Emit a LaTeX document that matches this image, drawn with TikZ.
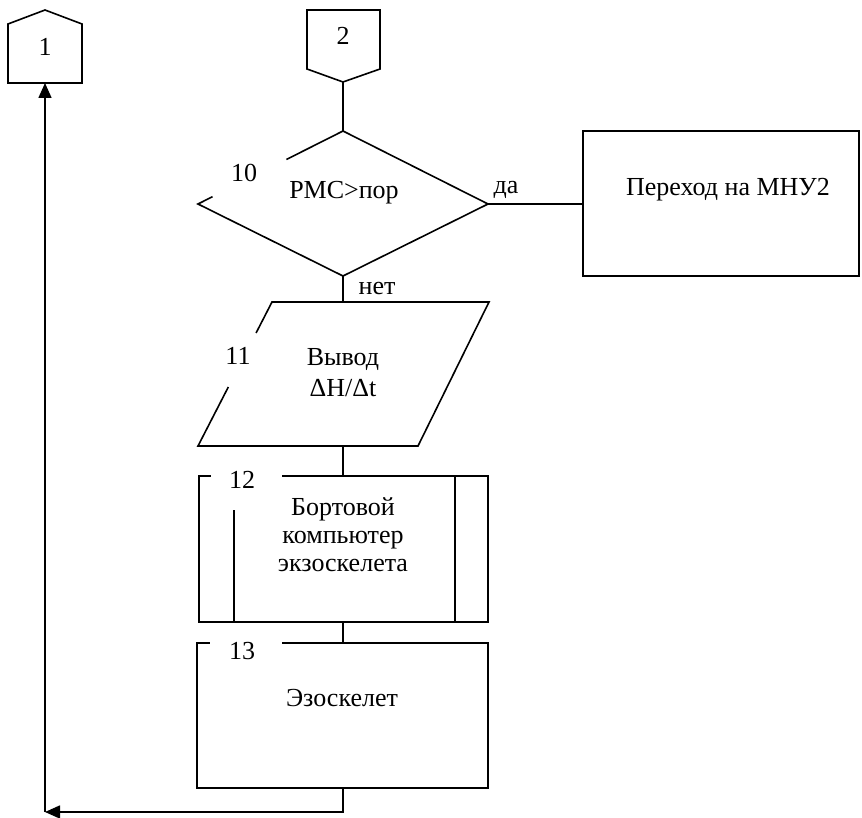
\documentclass[tikz,border=0pt]{standalone}
\usepackage{fontspec}
\setmainfont{Liberation Serif}
\usetikzlibrary{arrows.meta,calc}
\begin{document}
\begin{tikzpicture}[x=1pt,y=-1pt,line width=1.6pt,line join=miter,
  font=\fontsize{26}{31}\selectfont,
  lbl/.style={inner sep=0pt,anchor=center,text height=0.7em,text depth=0.2em,yshift=-4pt},
  lines/.style={inner sep=0pt,anchor=center,align=center},
  arr/.style={-{Triangle[length=15pt,width=13pt]}}]
\useasboundingbox (0,0) rectangle (862,818);

% off-page connector 1 (entry point, house shape)
\coordinate (c1base) at (45,83);
\draw (8,83) -- (8,24) -- (45,10) -- (82,24) -- (82,83) -- cycle;
\node[lbl] (c1) at (45,49) {1};

% off-page connector 2 (pointing down)
\coordinate (c2tip) at (343,82);
\draw (307,10) -- (380,10) -- (380,69) -- (c2tip) -- (307,69) -- cycle;
\node[lbl] (c2) at (343,38) {2};

% decision 10, left upper edge broken around the number
\coordinate (dT) at (343,131);
\coordinate (dB) at (343,276);
\coordinate (dL) at (198,204);
\coordinate (dR) at (488,204);
\draw ($(dL)!0.61!(dT)$) -- (dT) -- (dR) -- (dB) -- (dL) -- ($(dL)!0.1!(dT)$);
\node[lbl] (n10) at (244,175) {10};
\node[lbl] (t10) at (344,192) {РМС>пор};
\node[lbl] (yes) at (506,187) {да};
\node[lbl] (no) at (377,288) {нет};

% process: switch to MNU2
\node[draw,minimum width=276pt,minimum height=145pt,inner sep=0pt] (mnu) at (721,203.5) {};
\node[lbl] (tmnu) at (728,189) {Переход на МНУ2};

% output 11 (parallelogram), left edge broken around the number
\coordinate (pTL) at (272,302);
\coordinate (pTR) at (489,302);
\coordinate (pBR) at (418,446);
\coordinate (pBL) at (198,446);
\coordinate (pTop) at (343,302);
\coordinate (pBot) at (343,446);
\draw ($(pTL)!0.59!(pBL)$) -- (pBL) -- (pBR) -- (pTR) -- (pTL) -- ($(pTL)!0.215!(pBL)$);
\node[lbl] (n11) at (238,358) {11};
\node[lines] (t11) at (343,373) {Вывод\\ΔH/Δt};

% predefined process 12
\coordinate (bTop) at (343,476);
\coordinate (bBot) at (343,622);
\draw (282,476) -- (488,476) -- (488,622) -- (199,622) -- (199,476) -- (211,476);
\draw (234,510) -- (234,622);
\draw (455,476) -- (455,622);
\node[lbl] (n12) at (242,482) {12};
\node[lines,font=\fontsize{26}{28}\selectfont] (t12) at (343,535) {Бортовой\\компьютер\\экзоскелета};

% process 13
\coordinate (eTop) at (343,643);
\coordinate (eBot) at (343,788);
\draw (282,643) -- (488,643) -- (488,788) -- (197,788) -- (197,643) -- (210,643);
\node[lbl] (n13) at (242,653) {13};
\node[lbl] (t13) at (342,700) {Эзоскелет};

% flow lines
\coordinate (corner) at (45,812);
\draw (c2tip) -- (dT);
\draw (dR) -- (mnu.west |- dR);
\draw (dB) -- (pTop);
\draw (pBot) -- (bTop);
\draw (bBot) -- (eTop);
\draw[arr] (eBot) -- (eBot |- corner) -- (corner);
\draw[arr] (corner) -- (c1base);
\end{tikzpicture}
\end{document}
